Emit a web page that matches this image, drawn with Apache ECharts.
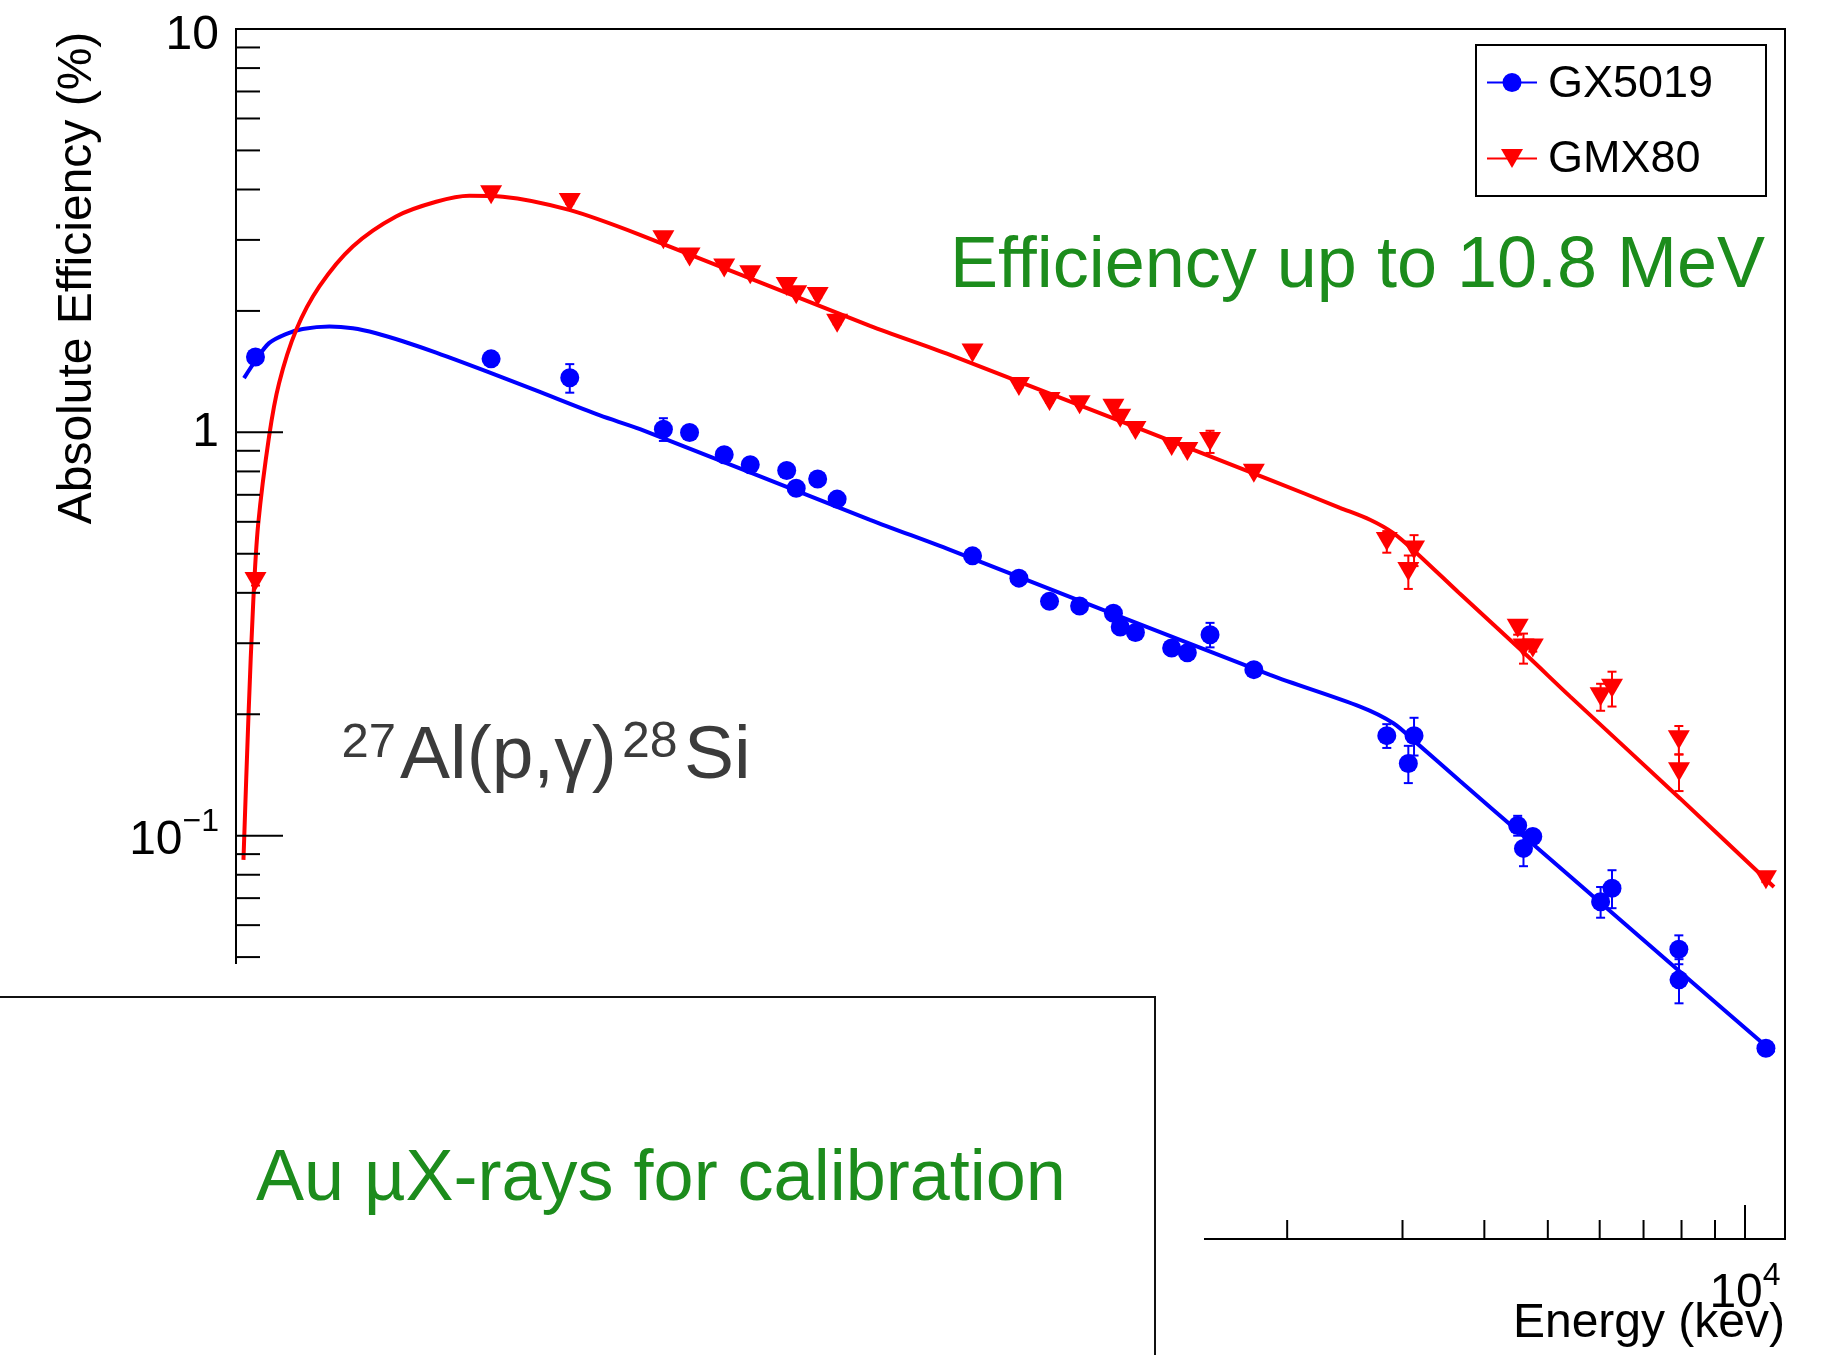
<!DOCTYPE html>
<html>
<head>
<meta charset="utf-8">
<script src="https://cdn.jsdelivr.net/npm/echarts@6/dist/echarts.min.js"></script>
<style>
html,body{margin:0;padding:0;background:#ffffff;}
#chart{width:1828px;height:1355px;}
</style>
</head>
<body>
<div id="chart"></div>
<script>
// ---------------- data ----------------
// gamma energies (keV), shared by both detectors
const energies = [53.2, 121.8, 160.6, 223.2, 244.7, 276.4, 302.9, 344.3, 356.0, 383.9, 411.1,
  661.7, 778.9, 867.4, 964.1, 1085.8, 1112.1, 1173.2, 1332.5, 1408.0, 1525, 1778.9,
  2838.7, 3062, 3124, 4497.4, 4590, 4742.5, 6019.5, 6265.5, 7925, 7930, 10762.9];

// GX5019 absolute efficiency (%) and errors
const gx5019 = [1.537, 1.521, 1.365, 1.018, 0.999, 0.880, 0.831, 0.804, 0.727, 0.766, 0.683,
  0.494, 0.435, 0.381, 0.371, 0.356, 0.329, 0.319, 0.292, 0.284, 0.315, 0.258,
  0.177, 0.151, 0.177, 0.106, 0.093, 0.0995, 0.0686, 0.0741, 0.0523, 0.0439, 0.0297];
const gx5019Err = [0.02, 0.02, 0.111, 0.066, 0.015, 0.012, 0.012, 0.012, 0.011, 0.011, 0.010,
  0.007, 0.006, 0.006, 0.006, 0.005, 0.005, 0.005, 0.004, 0.004, 0.022, 0.004,
  0.012, 0.016, 0.019, 0.006, 0.009, 0.004, 0.006, 0.008, 0.0043, 0.0055, 0.0008];

// GMX80 absolute efficiency (%) and errors
const gmx80 = [0.427, 3.88, 3.714, 3.001, 2.719, 2.554, 2.458, 2.299, 2.193, 2.172, 1.865,
  1.572, 1.299, 1.192, 1.170, 1.148, 1.084, 1.010, 0.922, 0.896, 0.949, 0.792,
  0.536, 0.452, 0.511, 0.327, 0.292, 0.292, 0.221, 0.232, 0.173, 0.144, 0.0777];
const gmx80Err = [0.01, 0.03, 0.03, 0.02, 0.02, 0.02, 0.02, 0.015, 0.015, 0.015, 0.012,
  0.01, 0.008, 0.008, 0.008, 0.008, 0.007, 0.007, 0.006, 0.006, 0.06, 0.005,
  0.033, 0.043, 0.045, 0.012, 0.025, 0.006, 0.017, 0.023, 0.014, 0.015, 0.001];

// fitted efficiency curves
const gxFitE = [51.1, 53.3, 55.8, 59.2, 62.8, 69.0, 74.9, 81.3, 89.3, 100.4, 121.0, 142.6, 178.6, 205.6,
  461.5, 611.5, 1883, 2584, 2905, 3154, 3672, 4642, 5405, 7958, 11073];
const gxFitV = [1.363, 1.513, 1.664, 1.752, 1.803, 1.829, 1.811, 1.761, 1.682, 1.576, 1.408, 1.270, 1.101, 1.018,
  0.607, 0.511, 0.2504, 0.2089, 0.190, 0.1696, 0.1367, 0.0982, 0.0793, 0.0460, 0.0289];
const gmxFitE = [51.0, 51.9, 52.8, 53.7, 55.8, 57.8, 61.4, 66.6, 74.9, 87.2, 100.4, 112.8, 126.9, 160.3, 205.6,
  461.5, 611.5, 1883, 2408, 2676, 2905, 3154, 3672, 4642, 5405, 7958, 11073];
const gmxFitV = [0.0871, 0.197, 0.384, 0.590, 0.976, 1.324, 1.796, 2.30, 2.89, 3.43, 3.73, 3.86, 3.84, 3.56, 3.088,
  1.837, 1.556, 0.7625, 0.650, 0.607, 0.5625, 0.5017, 0.3977, 0.2800, 0.2215, 0.1237, 0.0746];

// axis ranges and tick values
const xRange = [49.68, 11510];
const yRange = [0.01, 10];
const yMajorTicks = [0.01, 0.1, 1, 10];
const yMinorTicks = [0.02, 0.03, 0.04, 0.05, 0.06, 0.07, 0.08, 0.09,
  0.2, 0.3, 0.4, 0.5, 0.6, 0.7, 0.8, 0.9, 2, 3, 4, 5, 6, 7, 8, 9];
const xMajorTicks = [100, 1000, 10000];
const xMinorTicks = [60, 70, 80, 90, 200, 300, 400, 500, 600, 700, 800, 900,
  2000, 3000, 4000, 5000, 6000, 7000, 8000, 9000];
const legendNames = ['GX5019', 'GMX80'];

// ---------------- chart ----------------
const FONT = "'Liberation Sans', Arial, Helvetica, sans-serif";
const BLUE = '#0000ff', RED = '#ff0000', GREEN = '#1c8c1c', GRAY = '#3b3b3b';

function powLabel(v, powers) {
  const k = Math.round(Math.log10(v));
  if (Math.abs(Math.log10(v) - k) > 1e-6) return '';
  return powers[k] !== undefined ? powers[k] : '';
}

function tickSeries(axis, values, len) {
  return {
    type: 'custom', silent: true, z: 6, animation: false,
    data: values.map(v => axis === 'y' ? [xRange[0], v] : [v, yRange[0]]),
    renderItem: function (params, api) {
      const cs = params.coordSys;
      const p = api.coord([api.value(0), api.value(1)]);
      const shape = axis === 'y'
        ? { x1: cs.x, y1: p[1], x2: cs.x + len, y2: p[1] }
        : { x1: p[0], y1: cs.y + cs.height, x2: p[0], y2: cs.y + cs.height - len };
      return { type: 'line', shape: shape, style: { stroke: '#000', lineWidth: 2 } };
    }
  };
}

function errSeries(vals, errs, color) {
  return {
    type: 'custom', silent: true, z: 4, animation: false,
    data: energies.map((e, i) => [e, vals[i], errs[i]]),
    renderItem: function (params, api) {
      const e = api.value(0), v = api.value(1), d = api.value(2);
      const t = api.coord([e, v + d]), b = api.coord([e, v - d]);
      const c = 4.5;
      const st = { stroke: color, lineWidth: 2 };
      return {
        type: 'group', children: [
          { type: 'line', shape: { x1: t[0], y1: t[1], x2: b[0], y2: b[1] }, style: st },
          { type: 'line', shape: { x1: t[0] - c, y1: t[1], x2: t[0] + c, y2: t[1] }, style: st },
          { type: 'line', shape: { x1: b[0] - c, y1: b[1], x2: b[0] + c, y2: b[1] }, style: st }
        ]
      };
    }
  };
}

const rich = {
  b: { fontSize: 48, fontFamily: FONT, color: '#000', padding: [10, 0, 0, 0], verticalAlign: 'bottom' },
  s: { fontSize: 32, fontFamily: FONT, color: '#000', verticalAlign: 'top' },
  t: { fontSize: 48, fontFamily: FONT, color: '#000', padding: [14, 0, 0, 0] }
};

const chart = echarts.init(document.getElementById('chart'), null, { renderer: 'canvas' });

const option = {
  backgroundColor: '#ffffff',
  animation: false,
  grid: {
    left: 236, top: 29, right: 43, bottom: 116,
    show: true, borderColor: '#000', borderWidth: 2, backgroundColor: 'transparent',
    containLabel: false, outerBoundsMode: 'none'
  },
  xAxis: {
    type: 'log', logBase: 10, min: xRange[0], max: xRange[1],
    axisLine: { show: false }, axisTick: { show: false }, splitLine: { show: false },
    axisLabel: {
      margin: 21, color: '#000', fontSize: 48, fontFamily: FONT,
      formatter: v => powLabel(v, { 4: '{b|10}{s|4}' }),
      rich: rich
    }
  },
  yAxis: {
    type: 'log', logBase: 10, min: yRange[0], max: yRange[1],
    axisLine: { show: false }, axisTick: { show: false }, splitLine: { show: false },
    axisLabel: {
      margin: 17, color: '#000', fontSize: 48, fontFamily: FONT,
      formatter: v => powLabel(v, { 1: '{t|10}', 0: '1', '-1': '{b|10}{s|\u22121}' }),
      rich: rich
    }
  },
  series: [
    tickSeries('y', yMajorTicks, 47),
    tickSeries('y', yMinorTicks, 24),
    tickSeries('x', xMajorTicks, 34),
    tickSeries('x', xMinorTicks, 19),
    {
      name: legendNames[0] + ' fit', type: 'line', z: 2, silent: true,
      data: gxFitE.map((e, i) => [e, gxFitV[i]]),
      showSymbol: false, smooth: 0.3,
      lineStyle: { color: BLUE, width: 4 }
    },
    {
      name: legendNames[1] + ' fit', type: 'line', z: 3, silent: true,
      data: gmxFitE.map((e, i) => [e, gmxFitV[i]]),
      showSymbol: false, smooth: 0.3,
      lineStyle: { color: RED, width: 4 }
    },
    errSeries(gx5019, gx5019Err, BLUE),
    errSeries(gmx80, gmx80Err, RED),
    {
      name: legendNames[0], type: 'scatter', z: 5, silent: true,
      data: energies.map((e, i) => [e, gx5019[i]]),
      symbol: 'circle', symbolSize: 19, itemStyle: { color: BLUE, opacity: 1 }
    },
    {
      name: legendNames[1], type: 'scatter', z: 5, silent: true,
      data: energies.map((e, i) => [e, gmx80[i]]),
      symbol: 'triangle', symbolRotate: 180, symbolSize: [22, 19], itemStyle: { color: RED, opacity: 1 }
    }
  ],
  graphic: [
    // legend box
    { type: 'rect', z: 50, shape: { x: 1476, y: 45, width: 290, height: 151 }, style: { fill: '#fff', stroke: '#000', lineWidth: 2 } },
    { type: 'line', z: 51, shape: { x1: 1487, y1: 82.5, x2: 1537, y2: 82.5 }, style: { stroke: BLUE, lineWidth: 2 } },
    { type: 'circle', z: 52, shape: { cx: 1512, cy: 82.5, r: 9.5 }, style: { fill: BLUE } },
    { type: 'text', z: 52, x: 1548, y: 84.4, style: { text: legendNames[0], font: '45px ' + FONT, fill: '#000', align: 'left', verticalAlign: 'middle' } },
    { type: 'line', z: 51, shape: { x1: 1487, y1: 158.5, x2: 1537, y2: 158.5 }, style: { stroke: RED, lineWidth: 2 } },
    { type: 'polygon', z: 52, shape: { points: [[1501, 149], [1523, 149], [1512, 168]] }, style: { fill: RED } },
    { type: 'text', z: 52, x: 1548, y: 159.4, style: { text: legendNames[1], font: '45px ' + FONT, fill: '#000', align: 'left', verticalAlign: 'middle' } },
    // axis titles
    { type: 'text', z: 52, x: 78, y: 278, rotation: Math.PI / 2, style: { text: 'Absolute Efficiency (%)', font: '48px ' + FONT, fill: '#000', align: 'center', verticalAlign: 'middle' } },
    { type: 'text', z: 52, x: 1785, y: 1324, style: { text: 'Energy (kev)', font: '48px ' + FONT, fill: '#000', align: 'right', verticalAlign: 'middle' } },
    // annotations
    { type: 'text', z: 52, x: 950, y: 267, style: { text: 'Efficiency up to 10.8 MeV', font: '72px ' + FONT, fill: GREEN, align: 'left', verticalAlign: 'middle' } },
    { type: 'text', z: 52, x: 341.6, y: 743, style: { text: '27', font: '49px ' + FONT, fill: GRAY, align: 'left', verticalAlign: 'middle' } },
    { type: 'text', z: 52, x: 400, y: 757, style: { text: 'Al(p,\u03b3)', font: '75px ' + FONT, fill: GRAY, align: 'left', verticalAlign: 'middle' } },
    { type: 'text', z: 52, x: 622, y: 743, style: { text: '28', font: '50px ' + FONT, fill: GRAY, align: 'left', verticalAlign: 'middle' } },
    { type: 'text', z: 52, x: 684, y: 757, style: { text: 'Si', font: '75px ' + FONT, fill: GRAY, align: 'left', verticalAlign: 'middle' } },
    // pasted overlay box in the lower left
    { type: 'rect', z: 100, shape: { x: 0, y: 964, width: 1204, height: 400 }, style: { fill: '#fff' } },
    { type: 'rect', z: 101, shape: { x: -10, y: 997, width: 1165, height: 400 }, style: { fill: '#fff', stroke: '#111', lineWidth: 2 } },
    { type: 'text', z: 102, x: 256, y: 1180, style: { text: 'Au \u00b5X-rays for calibration', font: '72px ' + FONT, fill: GREEN, align: 'left', verticalAlign: 'middle' } }
  ]
};

chart.setOption(option);
</script>
</body>
</html>
